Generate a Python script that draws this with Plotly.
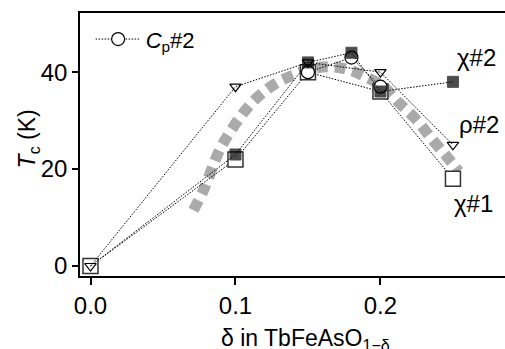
import plotly.graph_objects as go

# Oxygen deficiency delta and Tc (K) for each sample / probe
chi1_x = [0.0, 0.10, 0.15, 0.20, 0.25]
chi1_y = [0.0, 22.0, 40.0, 36.0, 18.0]

chi2_x = [0.0, 0.10, 0.15, 0.18, 0.20, 0.25]
chi2_y = [0.0, 23.0, 42.0, 44.0, 36.0, 38.0]

rho2_x = [0.0, 0.10, 0.15, 0.20, 0.25]
rho2_y = [0.0, 37.0, 42.0, 40.0, 25.0]

cp2_x = [0.15, 0.18, 0.20]
cp2_y = [40.0, 43.0, 37.0]

# Guide-to-the-eye dome
guide_x = [0.071, 0.078, 0.089, 0.097, 0.107, 0.117, 0.128, 0.140, 0.154,
           0.167, 0.179, 0.190, 0.202, 0.213, 0.225, 0.236, 0.246, 0.254]
guide_y = [11.5, 15.7, 23.9, 28.0, 32.2, 35.3, 37.7, 39.4, 40.8,
           41.1, 40.4, 39.0, 37.0, 33.6, 30.1, 26.0, 22.5, 19.5]

FONT = "Liberation Sans"
dotted = dict(color="black", width=1, dash="1.5px,1.5px")

fig = go.Figure()

fig.add_trace(go.Scatter(
    x=guide_x, y=guide_y, mode="lines", showlegend=False,
    line=dict(color="#aaaaaa", width=11, dash="11px,7px", shape="spline"),
))

fig.add_trace(go.Scatter(
    x=chi1_x, y=chi1_y, mode="lines+markers", name="χ#1", showlegend=False,
    line=dotted,
    marker=dict(symbol="square", size=15, color="white",
                line=dict(color="#333333", width=1.5)),
))

fig.add_trace(go.Scatter(
    x=cp2_x, y=cp2_y, mode="lines+markers", name="<i>C</i><sub>p</sub>#2",
    showlegend=True, line=dotted,
    marker=dict(symbol="circle", size=13, color="white",
                line=dict(color="black", width=1.2)),
))

# the origin point of this series is shared with the others and carries no marker
chi2_sizes = [0] + [11] * (len(chi2_x) - 1)
fig.add_trace(go.Scatter(
    x=chi2_x, y=chi2_y, mode="lines+markers", name="χ#2", showlegend=False,
    line=dotted,
    marker=dict(symbol="square", size=chi2_sizes, color="black",
                line=dict(color="black", width=1)),
))

fig.add_trace(go.Scatter(
    x=rho2_x, y=rho2_y, mode="lines+markers", name="ρ#2", showlegend=False,
    line=dotted,
    marker=dict(symbol="triangle-down-open", size=10, color="black",
                line=dict(width=1.2)),
))

labels = [("χ#2", 0.2665, 43.0), ("ρ#2", 0.268, 29.1), ("χ#1", 0.2645, 13.0)]
for text, lx, ly in labels:
    fig.add_annotation(x=lx, y=ly, text=text, showarrow=False,
                       font=dict(family=FONT, size=24, color="black"),
                       xanchor="center", yanchor="middle")

# Axis titles
fig.add_annotation(xref="paper", yref="paper", x=0.53, y=-0.24,
                   text="δ in TbFeAsO<sub>1−δ</sub>", showarrow=False,
                   font=dict(family=FONT, size=23, color="black"),
                   xanchor="center", yanchor="middle")
fig.add_annotation(xref="paper", yref="paper", x=-0.122, y=0.52,
                   text="<i>T</i><sub>c</sub> (K)", showarrow=False,
                   textangle=-90,
                   font=dict(family=FONT, size=23, color="black"),
                   xanchor="center", yanchor="middle")

fig.update_layout(
    width=505, height=349,
    margin=dict(l=80, r=0, t=13, b=73),
    paper_bgcolor="white", plot_bgcolor="white",
    font=dict(family=FONT, size=23, color="black"),
    legend=dict(x=0.025, y=0.98, xanchor="left", yanchor="top",
                bgcolor="rgba(0,0,0,0)", font=dict(size=22),
                itemwidth=45, tracegroupgap=0),
    xaxis=dict(
        range=[-0.00724, 0.2859], tickvals=[0.0, 0.1, 0.2],
        ticktext=["0.0", "0.1", "0.2"],
        showgrid=False, zeroline=False, automargin=False,
        showline=True, linecolor="black", linewidth=1.5, mirror=True,
        ticks="outside", ticklen=7, tickwidth=1.5, tickcolor="black",
        tickfont=dict(size=24),
    ),
    yaxis=dict(
        range=[-2.06, 52.2], tickvals=[0, 20, 40],
        showgrid=False, zeroline=False, automargin=False,
        showline=True, linecolor="black", linewidth=1.5, mirror=False,
        ticks="outside", ticklen=6, tickwidth=1.5, tickcolor="black",
        tickfont=dict(size=24),
    ),
)

fig.write_html("out.html")
